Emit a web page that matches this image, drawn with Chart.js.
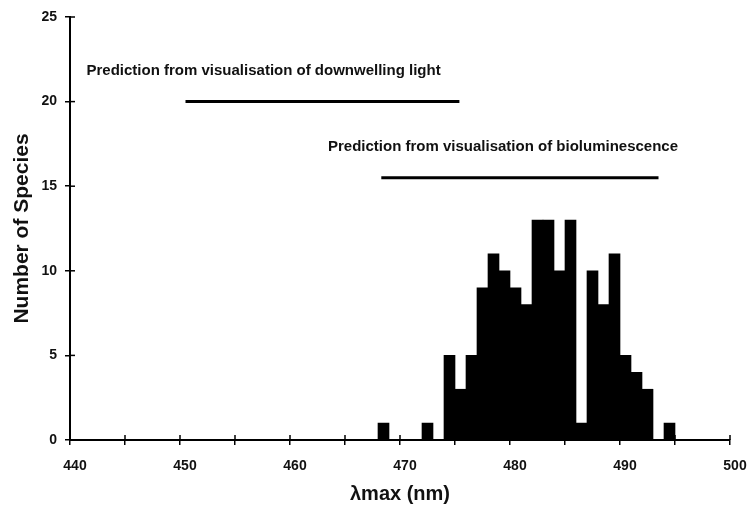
<!DOCTYPE html>
<html>
<head>
<meta charset="utf-8">
<title>λmax histogram</title>
<script src="https://cdn.jsdelivr.net/npm/chart.js@4/dist/chart.umd.min.js"></script>
<style>
  html, body { margin: 0; padding: 0; background: #fff; }
  #wrap { width: 750px; height: 506px; }
</style>
</head>
<body>
<div id="wrap"><canvas id="histChart" width="750" height="506"></canvas></div>
<script>
// lower edge of each 1 nm bin (nm) and the number of species in it
const binStarts = [468, 469, 470, 471, 472, 473, 474, 475, 476, 477, 478, 479, 480, 481,
  482, 483, 484, 485, 486, 487, 488, 489, 490, 491, 492, 493, 494];
const speciesCounts = [1, 0, 0, 0, 1, 0, 5, 3, 5, 9, 11, 10, 9, 8,
  13, 13, 10, 13, 1, 10, 8, 11, 5, 4, 3, 0, 1];

const xTicks = [440, 450, 460, 470, 480, 490, 500];
const yTicks = [0, 5, 10, 15, 20, 25];

// predicted ranges: [from nm, to nm, level]
const downwellingRange = [450.5, 475.4, 20];
const bioluminescenceRange = [468.3, 493.5, 15.5];
const downwellingLabel = 'Prediction from visualisation of downwelling light';
const bioluminescenceLabel = 'Prediction from visualisation of bioluminescence';

const FONT = "'Liberation Sans', Arial, sans-serif";

// text notes anchored in data units
const notes = [
  { text: downwellingLabel, x: 441.5, y: 21.8 },
  { text: bioluminescenceLabel, x: 463.45, y: 17.3 },
];

const axisDecor = {
  id: 'axisDecor',
  afterDatasetsDraw(chart) {
    const { ctx, scales: { x, y } } = chart;
    ctx.save();
    ctx.strokeStyle = '#000';
    ctx.lineWidth = 1.5;
    // inner half of the crossing tick marks
    for (let v = x.min; v <= x.max; v += 5) {
      const px = x.getPixelForValue(v);
      ctx.beginPath();
      ctx.moveTo(px, y.bottom);
      ctx.lineTo(px, y.bottom - 5);
      ctx.stroke();
    }
    for (let v = y.min; v <= y.max; v += 5) {
      const py = y.getPixelForValue(v);
      ctx.beginPath();
      ctx.moveTo(x.left, py);
      ctx.lineTo(x.left + 5, py);
      ctx.stroke();
    }
    ctx.fillStyle = '#111';
    ctx.font = `bold 15px ${FONT}`;
    ctx.textBaseline = 'middle';
    ctx.textAlign = 'left';
    notes.forEach((n) => {
      ctx.fillText(n.text, x.getPixelForValue(n.x), y.getPixelForValue(n.y));
    });
    ctx.restore();
  },
};

function rangeLine(range) {
  return {
    type: 'line',
    data: [{ x: range[0], y: range[2] }, { x: range[1], y: range[2] }],
    borderColor: '#000',
    borderWidth: 3,
    pointRadius: 0,
    fill: false,
  };
}

function initHistChart() {
  const ctx = document.getElementById('histChart');
  if (!ctx || typeof Chart === 'undefined') return;

  const bars = binStarts.map((start, i) => ({ x: start + 0.5, y: speciesCounts[i] }));

  new Chart(ctx, {
    data: {
      datasets: [
        {
          type: 'bar',
          data: bars,
          backgroundColor: '#000',
          borderWidth: 0,
          barPercentage: 1,
          categoryPercentage: 1,
        },
        rangeLine(downwellingRange),
        rangeLine(bioluminescenceRange),
      ],
    },
    options: {
      responsive: false,
      animation: false,
      layout: { padding: { top: 17, right: 0, left: 0, bottom: 0 } },
      plugins: {
        legend: { display: false },
        tooltip: { enabled: false },
      },
      scales: {
        x: {
          type: 'linear',
          min: 440,
          max: 500,
          offset: false,
          afterFit: (scale) => {
            scale.height = 66;
            scale.paddingRight = 20;
          },
          ticks: {
            stepSize: 5,
            autoSkip: false,
            maxRotation: 0,
            padding: 13,
            labelOffset: 5,
            color: '#111',
            font: { family: FONT, size: 14, weight: 'bold' },
            callback: (v) => (xTicks.includes(v) ? String(v) : ''),
          },
          grid: { drawOnChartArea: false, offset: false, tickLength: 5, color: '#000', lineWidth: 1.5 },
          border: { color: '#000', width: 2 },
          title: {
            display: true,
            text: 'λmax (nm)',
            color: '#111',
            font: { family: FONT, size: 20, weight: 'bold' },
            padding: { top: 0, bottom: 0 },
          },
        },
        y: {
          min: 0,
          max: 25,
          afterFit: (scale) => { scale.width = 70; },
          ticks: {
            stepSize: 5,
            padding: 8,
            color: '#111',
            font: { family: FONT, size: 14, weight: 'bold' },
            callback: (v) => (yTicks.includes(v) ? String(v) : ''),
          },
          grid: { drawOnChartArea: false, tickLength: 5, color: '#000', lineWidth: 1.5 },
          border: { color: '#000', width: 2 },
          title: {
            display: true,
            text: 'Number of Species',
            color: '#111',
            font: { family: FONT, size: 21, weight: 'bold' },
            padding: { top: 10, bottom: 0 },
          },
        },
      },
    },
    plugins: [axisDecor],
  });
}

window.addEventListener('DOMContentLoaded', () => {
  initHistChart();
});
</script>
</body>
</html>
